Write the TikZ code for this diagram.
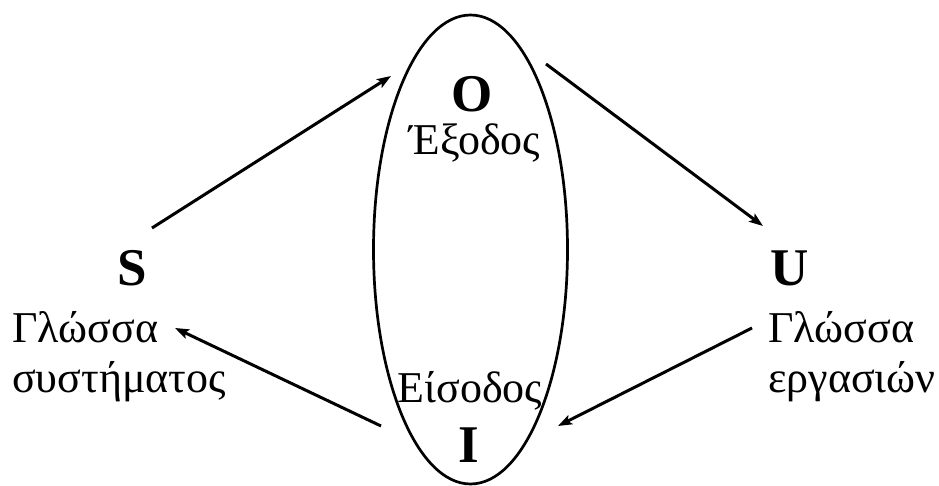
\documentclass[tikz,border=0pt]{standalone}
\usepackage{fontspec}
\setmainfont{Liberation Serif}
\usetikzlibrary{arrows.meta}
\begin{document}
\begin{tikzpicture}[x=1pt,y=-1pt,
  big/.style={font=\fontsize{53}{53}\selectfont\bfseries, anchor=base, inner sep=0pt},
  lbl/.style={font=\fontsize{44}{44}\selectfont, anchor=base, inner sep=0pt},
  lbll/.style={font=\fontsize{44}{44}\selectfont, anchor=base west, inner sep=0pt},
  arr/.style={line width=3pt, -{Stealth[length=14pt,width=10pt,inset=3pt]}}]
\useasboundingbox (0,0) rectangle (939,486);
\draw[line width=2.7pt] (470.5,249.5) ellipse [x radius=97, y radius=234.5];
\node[big] (O) at (472,112) {O};
\node[lbl] (Oe) at (475,155) {Έξοδος};
\node[lbl] (Ie) at (470,402) {Είσοδος};
\node[big] (I) at (469,462) {I};
\node[big] (S) at (132,285) {S};
\node[lbll] (S1) at (12,342) {Γλώσσα};
\node[lbll] (S2) at (12,392) {συστήματος};
\node[big] (U) at (790,285) {U};
\node[lbll] (U1) at (768,342) {Γλώσσα};
\node[lbll] (U2) at (768,392) {εργασιών};
\coordinate (a1) at (152,228);
\coordinate (a2) at (391,76);
\coordinate (b1) at (546,64);
\coordinate (b2) at (763,226);
\coordinate (c1) at (381,426);
\coordinate (c2) at (175,328);
\coordinate (d1) at (752,328);
\coordinate (d2) at (558,426);
\draw[arr] (a1) -- (a2);
\draw[arr] (b1) -- (b2);
\draw[arr] (c1) -- (c2);
\draw[arr] (d1) -- (d2);
\end{tikzpicture}
\end{document}
